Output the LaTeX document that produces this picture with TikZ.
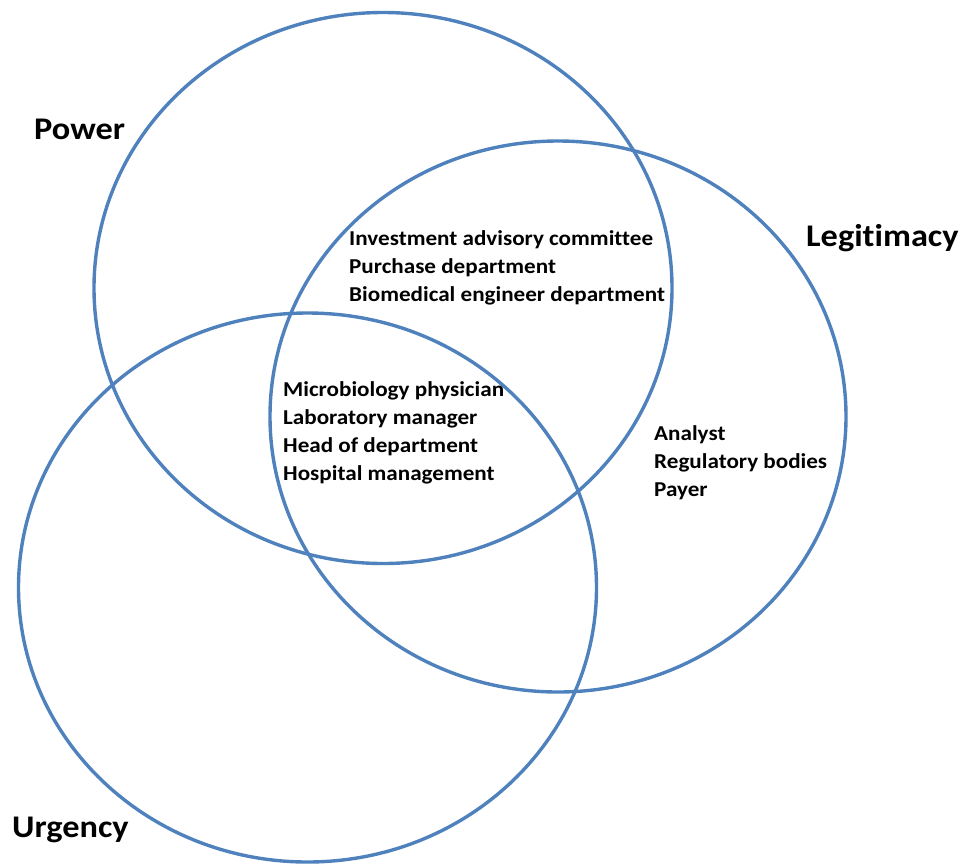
\documentclass[tikz,border=0pt]{standalone}
\usepackage{fontspec}
\setmainfont{Carlito}[Ligatures=NoCommon, FakeStretch=1.09]
\begin{document}
\begin{tikzpicture}[x=1pt,y=-1pt,
  ring/.style={draw=ringblue, line width=3.4pt},
  setlabel/.style={font=\bfseries\fontsize{31.5}{36}\selectfont, anchor=west, inner sep=0pt},
  members/.style={font=\bfseries\fontsize{21.2}{28}\selectfont, align=left, anchor=west, inner sep=0pt}
]
\definecolor{ringblue}{HTML}{4F81BD}
\useasboundingbox (0,0) rectangle (961,863);

% the three overlapping sets
\draw[ring] (383,288) ellipse [x radius=289, y radius=275.5];
\draw[ring] (558,416.5) ellipse [x radius=288, y radius=275.5];
\draw[ring] (307.5,587.5) ellipse [x radius=289, y radius=274.5];

% set names
\node[setlabel] (power) at (34,129) {Power};
\node[setlabel] (legit) at (806,238) {Legitimacy};
\node[setlabel] (urgency) at (12,830) {Urgency};

% stakeholders in each region
\node[members] (pl) at (349,267.5) {Investment advisory committee\\Purchase department\\Biomedical engineer department};
\node[members] (plu) at (283,432.5) {Microbiology physician\\Laboratory manager\\Head of department\\Hospital management};
\node[members] (l) at (654,462.5) {Analyst\\Regulatory bodies\\Payer};
\end{tikzpicture}
\end{document}
